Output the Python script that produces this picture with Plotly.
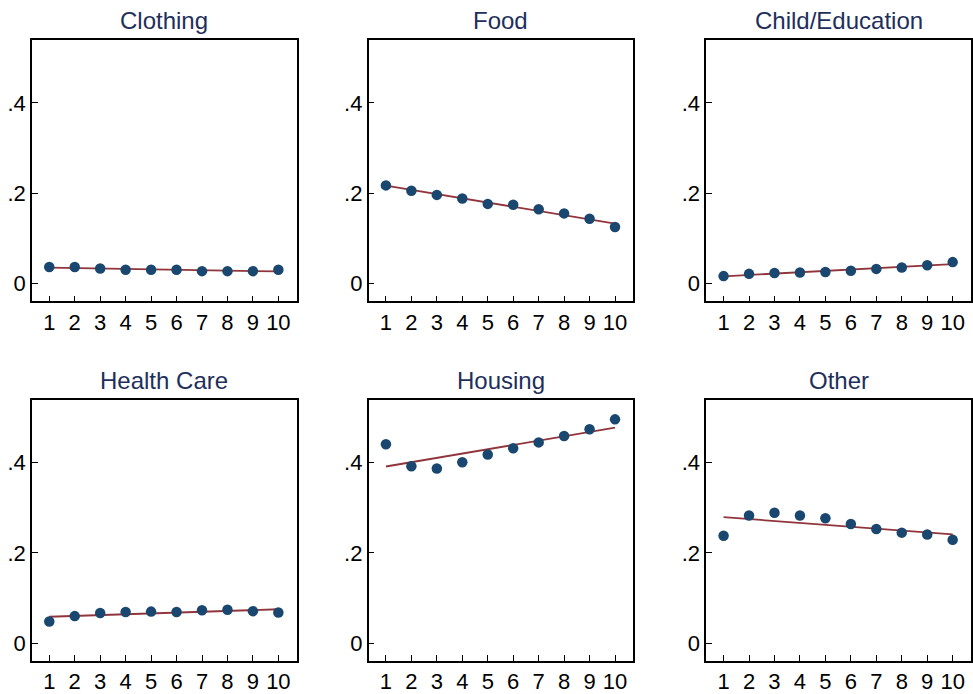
import numpy as np
import plotly.graph_objects as go

deciles = [1, 2, 3, 4, 5, 6, 7, 8, 9, 10]
titles = ["Clothing", "Food", "Child/Education", "Health Care", "Housing", "Other"]

clothing = [0.036, 0.036, 0.033, 0.030, 0.030, 0.030, 0.027, 0.027, 0.027, 0.030]
food = [0.217, 0.205, 0.196, 0.188, 0.176, 0.174, 0.164, 0.155, 0.143, 0.125]
child_education = [0.016, 0.021, 0.023, 0.024, 0.025, 0.028, 0.032, 0.035, 0.040, 0.047]
health_care = [0.048, 0.060, 0.067, 0.069, 0.070, 0.069, 0.073, 0.074, 0.071, 0.068]
housing = [0.441, 0.392, 0.387, 0.401, 0.418, 0.432, 0.445, 0.459, 0.474, 0.496]
other = [0.238, 0.283, 0.289, 0.283, 0.277, 0.264, 0.253, 0.245, 0.241, 0.229]

series = [clothing, food, child_education, health_care, housing, other]

ytick_vals = [0, 0.2, 0.4]
ytick_text = ["0", ".2", ".4"]

W, H = 973, 694
col_px = [(32, 297), (369, 634), (707, 972)]
row_px = [(40, 304), (403, 667)]

FONT = "Liberation Sans, Arial, sans-serif"
MARK = "#1a476f"
LINE = "#90353b"
TITLE_C = "#1f2f5c"

fig = go.Figure()
annotations = []
for i, (name, vals) in enumerate(zip(titles, series)):
    r, c = divmod(i, 3)
    k = i + 1
    xa = "x" if k == 1 else f"x{k}"
    ya = "y" if k == 1 else f"y{k}"
    x = np.array(deciles, dtype=float)
    y = np.array(vals, dtype=float)
    b, a = np.polyfit(x, y, 1)
    fit = a + b * x
    fig.add_trace(go.Scatter(x=x, y=fit, mode="lines",
                             line=dict(color=LINE, width=1.8),
                             xaxis=xa, yaxis=ya, showlegend=False,
                             hoverinfo="skip"))
    fig.add_trace(go.Scatter(x=x, y=y, mode="markers",
                             marker=dict(color=MARK, size=10.5),
                             xaxis=xa, yaxis=ya, showlegend=False))
    x0, x1 = col_px[c]
    t0, t1 = row_px[r]
    xdom = [x0 / W, x1 / W]
    ydom = [1 - t1 / H, 1 - t0 / H]
    common = dict(showline=True, linecolor="black", linewidth=1.5, mirror=True,
                  ticks="inside", ticklen=6, tickwidth=1, tickcolor="black",
                  showgrid=False, zeroline=False,
                  tickfont=dict(family=FONT, size=22, color="black"))
    fig.layout[("xaxis" if k == 1 else f"xaxis{k}")] = dict(
        domain=xdom, anchor=ya, range=[0.32, 10.72],
        tickvals=deciles, ticktext=[str(d) for d in deciles], **common)
    fig.layout[("yaxis" if k == 1 else f"yaxis{k}")] = dict(
        domain=ydom, anchor=xa, range=[-0.04, 0.54],
        tickvals=ytick_vals, ticktext=ytick_text, **common)
    annotations.append(dict(text=name, x=(xdom[0] + xdom[1]) / 2, y=ydom[1],
                            xref="paper", yref="paper", xanchor="center",
                            yanchor="middle", yshift=19, showarrow=False,
                            font=dict(family=FONT, size=24, color=TITLE_C)))

fig.update_layout(width=W, height=H, margin=dict(l=0, r=0, t=0, b=0),
                  paper_bgcolor="white", plot_bgcolor="white",
                  annotations=annotations)
fig.write_html("out.html", config={"displayModeBar": False},
               post_script="document.body.style.margin='0';document.body.style.overflow='hidden';")
